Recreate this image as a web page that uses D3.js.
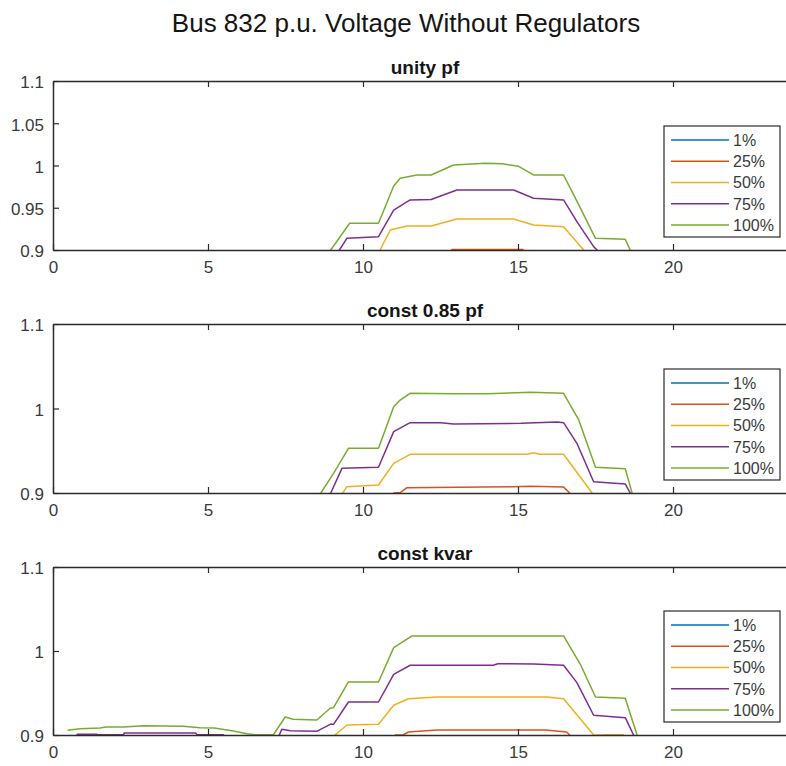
<!DOCTYPE html>
<html>
<head>
<meta charset="utf-8">
<script src="https://cdn.jsdelivr.net/npm/d3@7"></script>
<style>
  html, body { margin: 0; padding: 0; background: #fff; }
  svg { display: block; font-family: "Liberation Sans", Arial, sans-serif; }
</style>
</head>
<body>
<svg id="chart" width="786" height="766"></svg>
<script>
// ---------------- DATA ----------------
const mainTitle = "Bus 832 p.u. Voltage Without Regulators";
const panelTitles = ["unity pf", "const 0.85 pf", "const kvar"];
const seriesNames = ["1%", "25%", "50%", "75%", "100%"];
const seriesColors = ["#0072BD", "#D95319", "#EDB120", "#7E2F8E", "#77AC30"];
const xTicks = [0, 5, 10, 15, 20];
const yTicksPanel1 = [0.9, 0.95, 1, 1.05, 1.1];
const yTicksOther = [0.9, 1, 1.1];
const xDomain = [0, 24];
const yDomain = [0.9, 1.1];

// unity pf  [hour, p.u. voltage]
const unity1 = [[0, 0.86], [12, 0.88], [24, 0.86]];
const unity25 = [[12.8, 0.89], [12.87, 0.9007], [15.16, 0.9007], [15.2, 0.89]];
const unity50 = [[10.4, 0.89], [10.55, 0.9], [10.88, 0.9237], [11.42, 0.9284], [12.2, 0.9284], [13.03, 0.9367],
  [14.86, 0.9367], [15.5, 0.9296], [16.47, 0.9276], [17.12, 0.9], [17.3, 0.89]];
const unity75 = [[9.1, 0.89], [9.24, 0.9], [9.48, 0.9138], [10.5, 0.9158], [10.99, 0.9473], [11.52, 0.9592],
  [12.2, 0.9597], [13.03, 0.971], [14.86, 0.971], [15.5, 0.9612], [16.47, 0.9592], [16.9, 0.9335],
  [17.44, 0.904], [17.55, 0.9], [17.7, 0.89]];
const unity100 = [[8.7, 0.89], [8.96, 0.9], [9.57, 0.9316], [10.5, 0.9316], [10.99, 0.9757], [11.2, 0.985],
  [11.74, 0.9888], [12.2, 0.9888], [12.92, 1.0006], [13.94, 1.0026], [14.48, 1.002], [15.02, 0.999],
  [15.5, 0.9888], [16.47, 0.9888], [16.96, 0.9533], [17.5, 0.9138], [18.46, 0.9126], [18.62, 0.9], [18.7, 0.89]];

// const 0.85 pf
const pf1 = [[0, 0.86], [12, 0.88], [24, 0.86]];
const pf25 = [[10.9, 0.89], [10.99, 0.9], [11.2, 0.9005], [11.42, 0.9063], [14.86, 0.9075], [15.4, 0.9079],
  [16.47, 0.907], [16.67, 0.9], [16.8, 0.89]];
const pf50 = [[9.3, 0.89], [9.35, 0.9], [9.48, 0.9075], [10.5, 0.9095], [10.99, 0.9351], [11.52, 0.9458],
  [15.3, 0.9458], [15.5, 0.9477], [15.7, 0.9458], [16.47, 0.9458], [17.39, 0.9], [17.5, 0.89]];
const pf75 = [[8.85, 0.89], [8.96, 0.9], [9.32, 0.9292], [10.5, 0.9304], [10.99, 0.9726], [11.52, 0.9832],
  [12.5, 0.9832], [12.92, 0.9817], [15.1, 0.9825], [16.26, 0.984], [16.47, 0.9832], [16.9, 0.9588],
  [17.44, 0.9134], [18.46, 0.9107], [18.62, 0.9], [18.7, 0.89]];
const pf100 = [[8.4, 0.89], [8.64, 0.9], [9.05, 0.9233], [9.53, 0.9529], [10.5, 0.9529], [10.99, 1.0021],
  [11.2, 1.01], [11.52, 1.018], [12.92, 1.0174], [14.0, 1.0174], [15.4, 1.0192], [16.47, 1.018],
  [16.96, 0.9864], [17.5, 0.9304], [18.46, 0.9288], [18.68, 0.9], [18.8, 0.89]];

// const kvar
const kvar1 = [[0, 0.86], [12, 0.88], [24, 0.86]];
const kvar25 = [[10.95, 0.89], [11.04, 0.9], [11.3, 0.9003], [11.47, 0.9036], [12.38, 0.906], [15.88, 0.906],
  [16.57, 0.9036], [16.67, 0.9], [16.75, 0.89]];
const kvar50 = [[9.0, 0.89], [9.1, 0.9], [9.48, 0.9119], [10.5, 0.9127], [10.99, 0.9354], [11.47, 0.9432],
  [12.38, 0.9452], [15.93, 0.9452], [16.47, 0.9432], [17.44, 0.9], [17.76, 0.9], [17.8, 0.9004],
  [18.4, 0.9004], [18.45, 0.89]];
const kvar75 = [[0.7, 0.89], [0.78, 0.9008], [1.42, 0.9008], [1.45, 0.9003], [2.27, 0.9003], [2.3, 0.9025],
  [4.6, 0.9025], [4.65, 0.9003], [5.5, 0.9003], [5.6, 0.89], [7.25, 0.89], [7.3, 0.9], [7.38, 0.9068],
  [7.65, 0.905], [8.51, 0.9044], [8.94, 0.9127], [9.05, 0.9127], [9.53, 0.9393], [10.5, 0.9393],
  [10.99, 0.9722], [11.52, 0.983], [14.2, 0.983], [14.35, 0.9849], [15.5, 0.9845], [16.47, 0.983],
  [16.9, 0.9623], [17.44, 0.9235], [18.46, 0.9206], [18.73, 0.9], [18.8, 0.89]];
const kvar100 = [[0.47, 0.9056], [0.87, 0.9075], [1.52, 0.9083], [1.7, 0.9095], [2.3, 0.9095], [2.9, 0.911],
  [4.2, 0.9105], [4.74, 0.9087], [5.2, 0.9083], [5.82, 0.9048], [6.25, 0.9016], [6.56, 0.9003],
  [7.11, 0.9003], [7.49, 0.9214], [7.75, 0.9187], [8.51, 0.9179], [8.94, 0.9318], [9.05, 0.9325],
  [9.53, 0.9631], [10.5, 0.9631], [10.99, 1.004], [11.58, 1.0179], [16.47, 1.0179], [17.01, 0.9842],
  [17.5, 0.9452], [18.46, 0.9437], [18.84, 0.9], [18.9, 0.89]];

const panelSeries = [
  [unity1, unity25, unity50, unity75, unity100],
  [pf1, pf25, pf50, pf75, pf100],
  [kvar1, kvar25, kvar50, kvar75, kvar100]
];
const panelYTicks = [yTicksPanel1, yTicksOther, yTicksOther];

// ---------------- LAYOUT ----------------
const svg = d3.select("#chart");
const axisColor = "#2b2b2b";
const textColor = "#3a3a3a";
const left = 53, plotW = 744;
const tops = [81, 324, 567];
const heights = [169, 169, 168];

svg.append("text")
  .attr("x", 406).attr("y", 32)
  .attr("text-anchor", "middle")
  .attr("font-size", 26)
  .attr("fill", "#151515")
  .text(mainTitle);

const x = d3.scaleLinear().domain(xDomain).range([0, plotW]);

panelSeries.forEach((seriesList, pi) => {
  const top = tops[pi], h = heights[pi];
  const y = d3.scaleLinear().domain(yDomain).range([h, 0]);
  const g = svg.append("g").attr("transform", `translate(${left},${top})`);

  const clipId = "clip" + pi;
  g.append("clipPath").attr("id", clipId)
    .append("rect").attr("x", 0).attr("y", 0).attr("width", plotW).attr("height", h);

  const line = d3.line().x(d => x(d[0])).y(d => y(d[1]));
  const dataG = g.append("g").attr("clip-path", `url(#${clipId})`);
  seriesList.forEach((s, si) => {
    dataG.append("path")
      .datum(s)
      .attr("fill", "none")
      .attr("stroke", seriesColors[si])
      .attr("stroke-width", 1.5)
      .attr("stroke-linejoin", "round")
      .attr("d", line);
  });

  // axes
  const yAxis = d3.axisLeft(y).tickValues(panelYTicks[pi]).tickFormat(d => String(d))
    .tickSizeInner(-6).tickSizeOuter(0).tickPadding(9);
  const xAxis = d3.axisBottom(x).tickValues(xTicks).tickFormat(d => String(d))
    .tickSizeInner(-6).tickSizeOuter(0).tickPadding(11);
  const xTop = d3.axisTop(x).tickValues(xTicks).tickFormat("")
    .tickSizeInner(-6).tickSizeOuter(0);

  const styleAxis = sel => {
    sel.selectAll("path.domain").attr("stroke", axisColor).attr("stroke-width", 1.5);
    sel.selectAll(".tick line").attr("stroke", axisColor).attr("stroke-width", 1.2);
    sel.selectAll(".tick text").attr("fill", textColor).attr("font-size", 17)
      .attr("font-family", "\"Liberation Sans\", Arial, sans-serif");
  };
  g.append("g").call(xTop).call(styleAxis);
  g.append("g").attr("transform", `translate(0,${h})`).call(xAxis).call(styleAxis);
  g.append("g").attr("class", "yaxis").call(yAxis).call(styleAxis);
  g.selectAll(".yaxis .tick text").attr("dy", "0.4em");

  // panel title
  g.append("text")
    .attr("x", plotW / 2).attr("y", -7)
    .attr("text-anchor", "middle")
    .attr("font-size", 19).attr("font-weight", "bold")
    .attr("fill", "#151515")
    .text(panelTitles[pi]);

  // legend
  const lgW = 116, lgH = 111;
  const lgX = 664 - left, lgY = h - 13 - lgH;
  const lg = g.append("g").attr("transform", `translate(${lgX},${lgY})`);
  lg.append("rect").attr("width", lgW).attr("height", lgH)
    .attr("fill", "#fff").attr("stroke", axisColor).attr("stroke-width", 1.2);
  seriesNames.forEach((name, si) => {
    const ry = 14 + si * 21.25;
    lg.append("line").attr("x1", 7).attr("x2", 65).attr("y1", ry).attr("y2", ry)
      .attr("stroke", seriesColors[si]).attr("stroke-width", 1.5);
    lg.append("text").attr("x", 69).attr("y", ry).attr("dy", "0.36em")
      .attr("font-size", 16).attr("fill", textColor).text(name);
  });
});
</script>
</body>
</html>
